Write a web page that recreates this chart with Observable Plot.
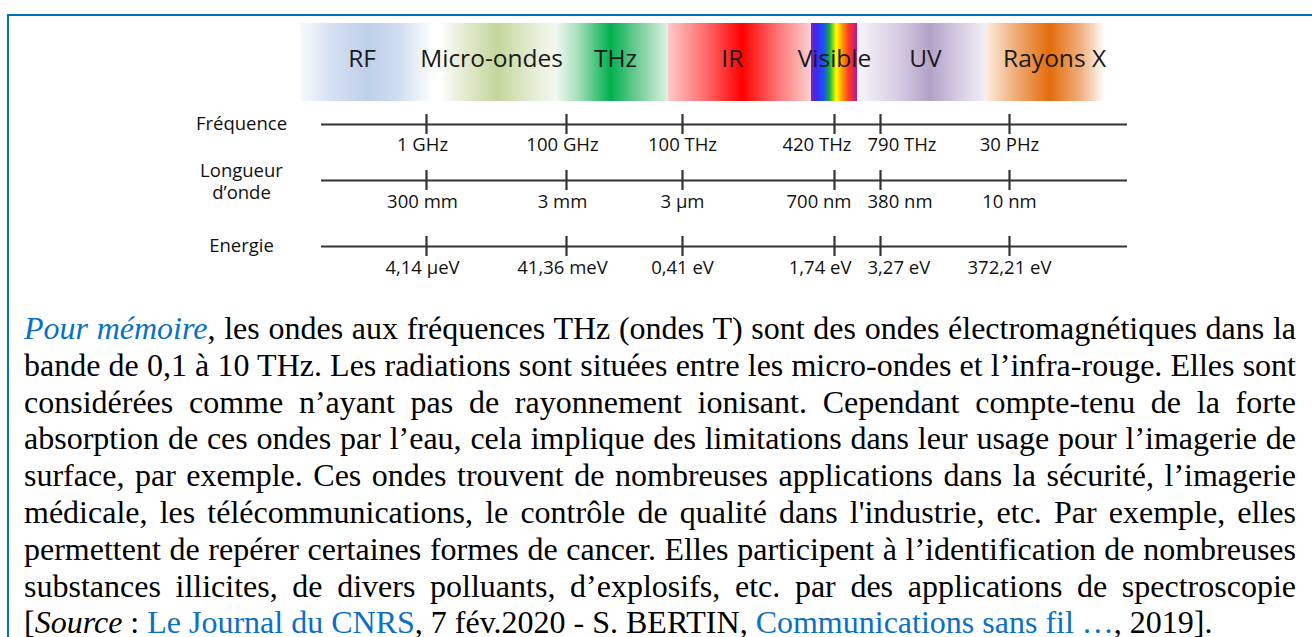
<!DOCTYPE html>
<html>
<head>
<meta charset="utf-8">
<script src="https://cdn.jsdelivr.net/npm/d3@7"></script>
<script src="https://cdn.jsdelivr.net/npm/@observablehq/plot@0.6"></script>
<style>
  html, body { margin: 0; padding: 0; background: #fff; width: 1312px; height: 637px; overflow: hidden; }
  body { position: relative; }
  #frame { position: absolute; left: 7px; top: 14px; width: 1400px; height: 700px;
           border-top: 2px solid #0070C0; border-left: 2px solid #0070C0; }
  .plot { position: absolute; left: 0; }
  .plot svg { overflow: visible; }
  #para { position: absolute; left: 24px; top: 310px; width: 1272px;
          font-family: "Liberation Serif", "Times New Roman", serif; font-size: 32px;
          line-height: 36.8px; color: #000; }
  #para .l { text-align: justify; text-align-last: justify; }
  #para .l.last { text-align-last: left; }
  .blue { color: #0B70C4; }
</style>
</head>
<body>
<div id="frame"></div>
<svg width="0" height="0" style="position:absolute"><defs id="defs"></defs></svg>
<div id="band" class="plot" style="top:0"></div>
<div id="row0" class="plot"></div>
<div id="row1" class="plot"></div>
<div id="row2" class="plot"></div>
<div id="para"></div>
<script>
// ---------- Data ----------
// Spectrum bands (frequency boundaries in Hz, label anchor frequency)
const bandNames   = ["RF", "Micro-ondes", "THz", "IR", "Visible", "UV", "Rayons X"];
const bandStarts  = [1.6e7, 1.6e9, 7e10, 4.34e13, 3.38e14, 5.76e14, 1.53e16];
const bandEnds    = [1.6e9, 7e10, 4.34e13, 3.38e14, 5.76e14, 1.53e16, 4.5e17];
const bandCenters = [1.2e8, 8.5e9, 1.85e12, 1.6e14, 4.2e14, 2.8e15, 1.07e17];
const bandColors = [
  [[0, "#F7F9FD"], [0.25, "#D3DEF1"], [0.48, "#BFD0EA"], [0.7, "#D0DCF0"], [0.95, "#FFFFFF"], [1, "#FFFFFF"]],
  [[0, "#FFFFFF"], [0.15, "#EAF0DC"], [0.5, "#C3D69B"], [0.8, "#E4EDD3"], [1, "#F3F7EE"]],
  [[0, "#F2FAF5"], [0.2, "#A8DFBC"], [0.49, "#00B050"], [0.75, "#7ACF9B"], [1, "#DDF3E5"]],
  [[0, "#FFCACA"], [0.25, "#FF7070"], [0.52, "#FF0000"], [0.78, "#FF7A7A"], [1, "#FFCFCF"]],
  [[0, "#7A22B8"], [0.12, "#3A2AF0"], [0.28, "#1E50FF"], [0.4, "#10B040"], [0.55, "#FFFF00"], [0.68, "#FF9A00"], [0.82, "#FF3A20"], [1, "#C4148C"]],
  [[0, "#F8F6FB"], [0.3, "#D8D0E6"], [0.57, "#B3A2C7"], [0.8, "#D6CEE3"], [1, "#F1EEF6"]],
  [[0, "#FCEEE3"], [0.25, "#EFAE78"], [0.54, "#E46C0A"], [0.8, "#F0B080"], [1, "#FFFFFF"]]
];

// Axis ticks (same frequencies on all three scales)
const tickFreqs    = [1e9, 1e11, 1e14, 4.2e14, 7.9e14, 3e16];
const freqLabels   = ["1 GHz", "100 GHz", "100 THz", "420 THz", "790 THz", "30 PHz"];
const waveLabels   = ["300 mm", "3 mm", "3 µm", "700 nm", "380 nm", "10 nm"];
const energyLabels = ["4,14 µeV", "41,36 meV", "0,41 eV", "1,74 eV", "3,27 eV", "372,21 eV"];
const rowTitles    = [["Fréquence"], ["Longueur", "d’onde"], ["Energie"]];

// Paragraph lines
const paraLines = [
  [["i blue", "Pour mémoire"], ["", ", les ondes aux fréquences THz (ondes T) sont des ondes électromagnétiques dans la"]],
  [["", "bande de 0,1 à 10 THz. Les radiations sont situées entre les micro-ondes et l’infra-rouge. Elles sont"]],
  [["", "considérées comme n’ayant pas de rayonnement ionisant. Cependant compte-tenu de la forte"]],
  [["", "absorption de ces ondes par l’eau, cela implique des limitations dans leur usage pour l’imagerie de"]],
  [["", "surface, par exemple. Ces ondes trouvent de nombreuses applications dans la sécurité, l’imagerie"]],
  [["", "médicale, les télécommunications, le contrôle de qualité dans l'industrie, etc. Par exemple, elles"]],
  [["", "permettent de repérer certaines formes de cancer. Elles participent à l’identification de nombreuses"]],
  [["", "substances illicites, de divers polluants, d’explosifs, etc. par des applications de spectroscopie"]],
  [["", "["], ["i", "Source"], ["", " : "], ["blue", "Le Journal du CNRS"], ["", ", 7 fév.2020 - S. BERTIN, "], ["blue", "Communications sans fil …"], ["", ", 2019]."]]
];

// ---------- Shared x scale (schematic, piecewise logarithmic) ----------
const xScale = {
  type: "log",
  domain: tickFreqs,
  range: [426, 566, 682, 834, 880, 1009],
  axis: null
};
const W = 1312;
const sans = "Open Sans";

// gradients
const defs = d3.select("#defs");
bandColors.forEach((stops, i) => {
  const g = defs.append("linearGradient").attr("id", "g" + i)
    .attr("x1", "0").attr("x2", "1").attr("y1", "0").attr("y2", "0");
  stops.forEach(([o, c]) => g.append("stop").attr("offset", o).attr("stop-color", c));
});

const bands = bandNames.map((name, i) => ({name, start: bandStarts[i], end: bandEnds[i], center: bandCenters[i], i}));

// ---------- Band plot ----------
const bandPlot = Plot.plot({
  width: W, height: 110,
  marginTop: 23, marginBottom: 9, marginLeft: 300, marginRight: 207,
  x: xScale,
  y: {axis: null},
  marks: [
    ...bands.map(b => Plot.rect([b], {x1: "start", x2: "end", fill: `url(#g${b.i})`})),
    Plot.text(bands, {x: "center", text: "name", frameAnchor: "middle", dy: -3,
      fontSize: 24.5, fontFamily: sans, fill: "#1a1a1a"})
  ]
});
document.getElementById("band").appendChild(bandPlot);

// ---------- Axis rows ----------
function makeRow(el, titleLines, labels, lineY, labelDy) {
  const data = tickFreqs.map((f, i) => ({freq: f, label: labels[i], i}));
  const common = {x: "freq", text: "label", frameAnchor: "bottom", lineAnchor: "middle",
                  dy: labelDy, fontSize: 18.5, fontFamily: sans, fill: "#111"};
  const titleOffsets = titleLines.length === 1 ? [0] : [-9, 13];
  const p = Plot.plot({
    width: W, height: 80,
    marginTop: 30, marginBottom: 30, marginLeft: 321, marginRight: 185,
    x: xScale,
    y: {domain: [-1, 1], axis: null},
    marks: [
      Plot.ruleY([0], {stroke: "#333", strokeWidth: 2.2}),
      Plot.ruleX(data, {x: "freq", stroke: "#333", strokeWidth: 2.2}),
      Plot.text(data, {...common, filter: d => [0, 1].includes(d.i), textAnchor: "middle", dx: -4}),
      Plot.text(data, {...common, filter: d => [2, 5].includes(d.i), textAnchor: "middle"}),
      Plot.text(data, {...common, filter: d => d.i === 3, textAnchor: "end", dx: 17}),
      Plot.text(data, {...common, filter: d => d.i === 4, textAnchor: "start", dx: -13}),
      ...titleLines.map((t, k) => Plot.text([t], {text: d => d, frameAnchor: "left", dx: -80,
        dy: titleOffsets[k], textAnchor: "middle", lineAnchor: "middle",
        fontSize: 18.5, fontFamily: sans, fill: "#111"}))
    ]
  });
  const div = document.getElementById(el);
  div.style.top = (lineY - 40) + "px";
  div.appendChild(p);
}
makeRow("row0", rowTitles[0], freqLabels, 124, 11);
makeRow("row1", rowTitles[1], waveLabels, 180, 12);
makeRow("row2", rowTitles[2], energyLabels, 246, 12);

// ---------- Paragraph ----------
const para = d3.select("#para");
paraLines.forEach((parts, li) => {
  const line = para.append("div").attr("class", "l" + (li === paraLines.length - 1 ? " last" : ""));
  parts.forEach(([cls, txt]) => {
    const s = line.append("span").text(txt);
    if (cls.includes("i")) s.style("font-style", "italic");
    if (cls.includes("blue")) s.classed("blue", true);
  });
});
</script>
</body>
</html>
